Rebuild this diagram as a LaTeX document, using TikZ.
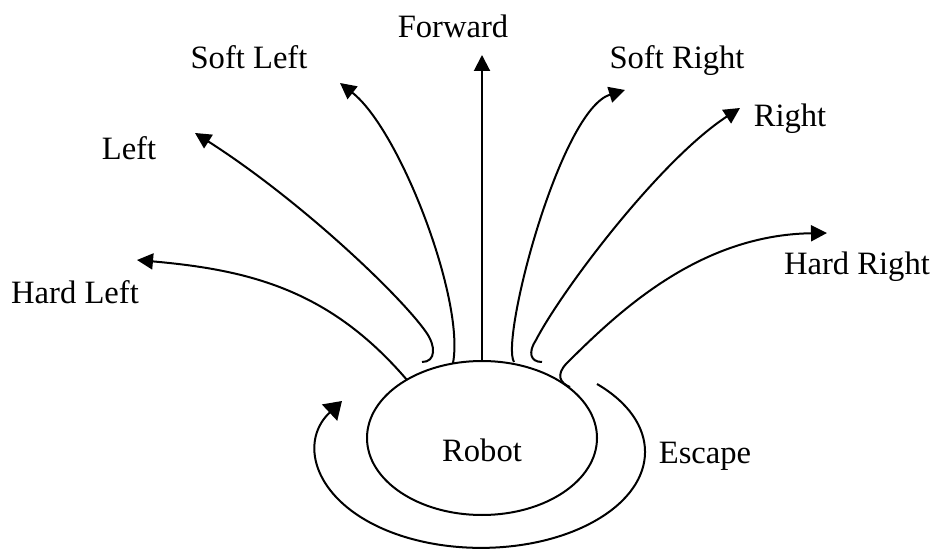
\documentclass[tikz,border=0pt]{standalone}
\usepackage{fontspec}
\setmainfont{Liberation Serif}
\usetikzlibrary{arrows.meta,shapes.geometric}

\begin{document}
\begin{tikzpicture}[x=0.5pt,y=-0.5pt,
  every node/.style={font=\fontsize{16.3}{19}\selectfont, inner sep=0pt},
  lbl/.style={anchor=base},
  move/.style={line width=1pt, -{Triangle[length=8pt,width=8pt]}},
  spin/.style={line width=1pt, -{Triangle[length=8.5pt,width=11pt]}},
  body/.style={ellipse, draw, line width=1pt, minimum width=115pt, minimum height=77pt}]
\useasboundingbox (0,0) rectangle (936,549);

% the robot
\node[body] (robot) at (482,438) {};
\node[lbl] (robotlabel) at (482,462) {Robot};

% direction labels
\node[lbl] (tForward)   at (453,38)  {Forward};
\node[lbl] (tSoftLeft)  at (249,69)  {Soft Left};
\node[lbl] (tSoftRight) at (677,69)  {Soft Right};
\node[lbl] (tLeft)      at (129,160) {Left};
\node[lbl] (tRight)     at (790,127) {Right};
\node[lbl] (tHardLeft)  at (75,304)  {Hard Left};
\node[lbl] (tHardRight) at (857,275) {Hard Right};
\node[lbl] (tEscape)    at (705,464) {Escape};

% start points on the robot and arrow tips
\coordinate (sHL) at (407,380);  \coordinate (eHL) at (137,260);
\coordinate (sL)  at (422,362);  \coordinate (eL)  at (195,133);
\coordinate (sSL) at (453,363);  \coordinate (eSL) at (340,83);
\coordinate (sF)  at (482,362);  \coordinate (eF)  at (482,55);
\coordinate (sSR) at (514,362);  \coordinate (eSR) at (625,90);
\coordinate (sR)  at (542,362);  \coordinate (eR)  at (740,108);
\coordinate (sHR) at (570,387);  \coordinate (eHR) at (827,233);
\coordinate (sE)  at (597,384);

% motion arrows
\draw[move] (sHL) .. controls (330,290) and (250,270) .. (eHL);
\draw[move] (sL) .. controls (436,362) and (436,346) .. (426,332)
                 .. controls (400,295) and (300,200) .. (eL);
\draw[move] (sSL) .. controls (465,300) and (400,130) .. (eSL);
\draw[move] (sF) -- (eF);
\draw[move] (sSR) .. controls (500,340) and (560,110) .. (eSR);
\draw[move] (sR) .. controls (530,362) and (528,352) .. (536,340)
                 .. controls (562,290) and (660,160) .. (eR);
\draw[move] (sHR) .. controls (560,383) and (556,375) .. (566,364)
                  .. controls (620,310) and (700,235) .. (eHR);

% escape loop around the robot
\draw[spin] (sE) arc[start angle=-45, end angle=212, x radius=164, y radius=96];
\end{tikzpicture}
\end{document}
